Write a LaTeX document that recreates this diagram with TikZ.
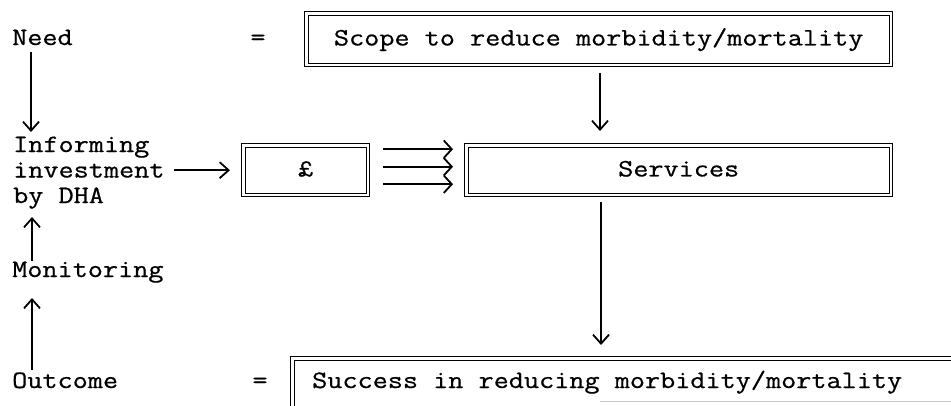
\documentclass[tikz,border=0pt]{standalone}
\usepackage{fontspec}
\setmonofont[FakeStretch=1.175,FakeBold=0.6]{Latin Modern Mono}
\usetikzlibrary{arrows.meta}
\begin{document}
\begin{tikzpicture}[x=1pt,y=-1pt,
  txt/.style={font=\ttfamily\fontsize{25}{25.5}\selectfont},
  lbl/.style={txt, inner sep=0pt, anchor=base west, align=left},
  dbox/.style={txt, draw, line width=1.4pt, anchor=north west, inner sep=0pt,
    text height=18pt, text depth=5.5pt},
  inner/.style={line width=0.9pt},
  arr/.style={line width=1.6pt,
    -{Straight Barb[length=9pt,width=16pt,line width=1.8pt]}},
  farr/.style={line width=1.6pt,
    -{Straight Barb[length=8pt,width=17.5pt,line width=1.8pt]}},
]
\path[clip] (0,0) rectangle (951,405);

% left-hand column of labels
\node[lbl] (need) at (12,45) {Need};
\node[lbl] (inform) at (13,203) {Informing\\investment\\by DHA};
\node[lbl] (mon) at (12,277) {Monitoring};
\node[lbl] (out) at (12,388) {Outcome};

% equals signs
\node[txt, inner sep=0pt, anchor=base] (eq1) at (258,45) {=};
\node[txt, inner sep=0pt, anchor=base] (eq2) at (260,388) {=};

% boxes (outer frame is the node border, the inner frame is drawn after)
\node[dbox, minimum width=588pt, minimum height=55pt] (scope) at (304,11)
  {Scope to reduce morbidity/mortality};
\node[dbox, minimum width=128pt, minimum height=53pt] (pound) at (241,143) {£};
\node[dbox, minimum width=428pt, minimum height=53pt] (serv) at (464,143) {Services};
\node[dbox, minimum width=720pt, minimum height=120pt] (succ) at (290,356) {};
\node[lbl] (succtxt) at (312,388) {Success in reducing morbidity/mortality};

\foreach \b in {scope,pound,serv,succ}{
  \draw[inner] ([shift={(4,4)}]\b.north west) rectangle ([shift={(-4,-4)}]\b.south east);
}

% x positions of the vertical connectors
\coordinate (lx) at (31,0);
\coordinate (lx2) at (32,0);
\coordinate (cx) at (600,0);
\coordinate (cx2) at (601,0);

% left column arrows
\draw[arr] ([yshift=-7pt]need.base -| lx) -- ([yshift=71pt]inform.base -| lx);
\draw[arr] ([yshift=16pt]mon.base -| lx2) -- ([yshift=-14pt]inform.base -| lx2);
\draw[arr] ([yshift=18pt]out.base -| lx2) -- ([yshift=-21pt]mon.base -| lx2);

% investment into the budget box
\draw[arr] ([xshift=9pt]inform.east |- pound.west) -- ([xshift=-11pt]pound.west);

% budget spread into services
\foreach \dy in {21,3.5,-14}{
  \draw[farr] ([xshift=13pt,yshift=\dy pt]pound.east)
    -- ([xshift=-11pt,yshift=\dy pt]serv.west);
}

% vertical flow on the right
\draw[arr] ([yshift=-6pt]scope.south -| cx) -- ([yshift=12pt]serv.north -| cx);
\draw[arr] ([yshift=-5pt]serv.south -| cx2) -- ([yshift=11pt]succ.north -| cx2);

% faint scan edge along the bottom
\draw[gray!45, line width=0.8pt] (600,401) -- (951,401);
\end{tikzpicture}
\end{document}
